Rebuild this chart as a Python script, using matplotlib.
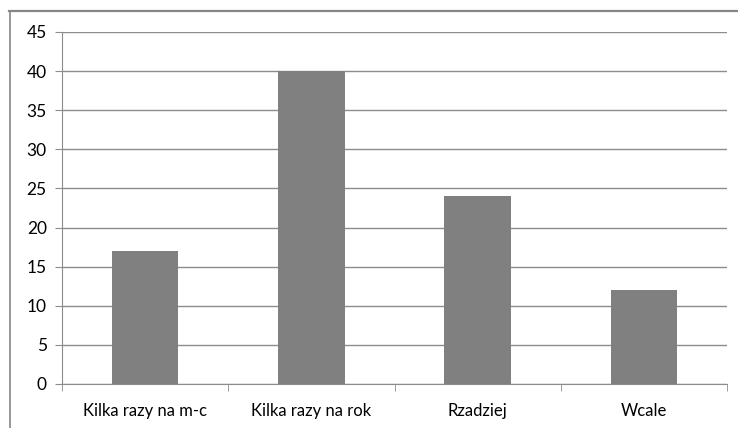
import matplotlib.pyplot as plt
from matplotlib.lines import Line2D

categorias = ['Kilka razy na m-c', 'Kilka razy na rok', 'Rzadziej', 'Wcale']
valores = [17, 40, 24, 12]
ticks_y = [0, 5, 10, 15, 20, 25, 30, 35, 40, 45]

plt.rcParams['font.family'] = ['Lato', 'DejaVu Sans']

fig = plt.figure(figsize=(7.38, 4.28), dpi=100)
ax = fig.add_axes([62 / 738, 1 - 384 / 428, 665 / 738, 352 / 428])

x = list(range(len(categorias)))
ax.bar(x, valores, width=0.4, color='#808080', zorder=3)

ax.set_xlim(-0.5, len(categorias) - 0.5)
ax.set_ylim(0, 45)
ax.set_yticks(ticks_y)
ax.set_yticklabels([str(t) for t in ticks_y], fontsize=12.5, color='#000000')
ax.yaxis.grid(True, color='#8c8c8c', linewidth=1, zorder=0)

ax.set_xticks(x)
ax.set_xticklabels(categorias, fontsize=12)
ax.tick_params(axis='x', length=0, pad=14)
ax.set_xticks([i - 0.5 for i in range(len(categorias) + 1)], minor=True)
ax.tick_params(axis='x', which='minor', length=5, color='#8c8c8c')
ax.tick_params(axis='y', length=5, color='#8c8c8c', pad=6)

for s in ['top', 'right']:
    ax.spines[s].set_visible(False)
for s in ['left', 'bottom']:
    ax.spines[s].set_color('#8c8c8c')

# marco exterior (solo se ve arriba e izquierda)
fig.add_artist(Line2D([9 / 738, 1.0], [1 - 10.5 / 428] * 2, color='#868686', linewidth=1.6, transform=fig.transFigure))
fig.add_artist(Line2D([9.5 / 738] * 2, [0.0, 1 - 10.5 / 428], color='#868686', linewidth=1.2, transform=fig.transFigure))

fig.savefig('out.png', dpi=100)
